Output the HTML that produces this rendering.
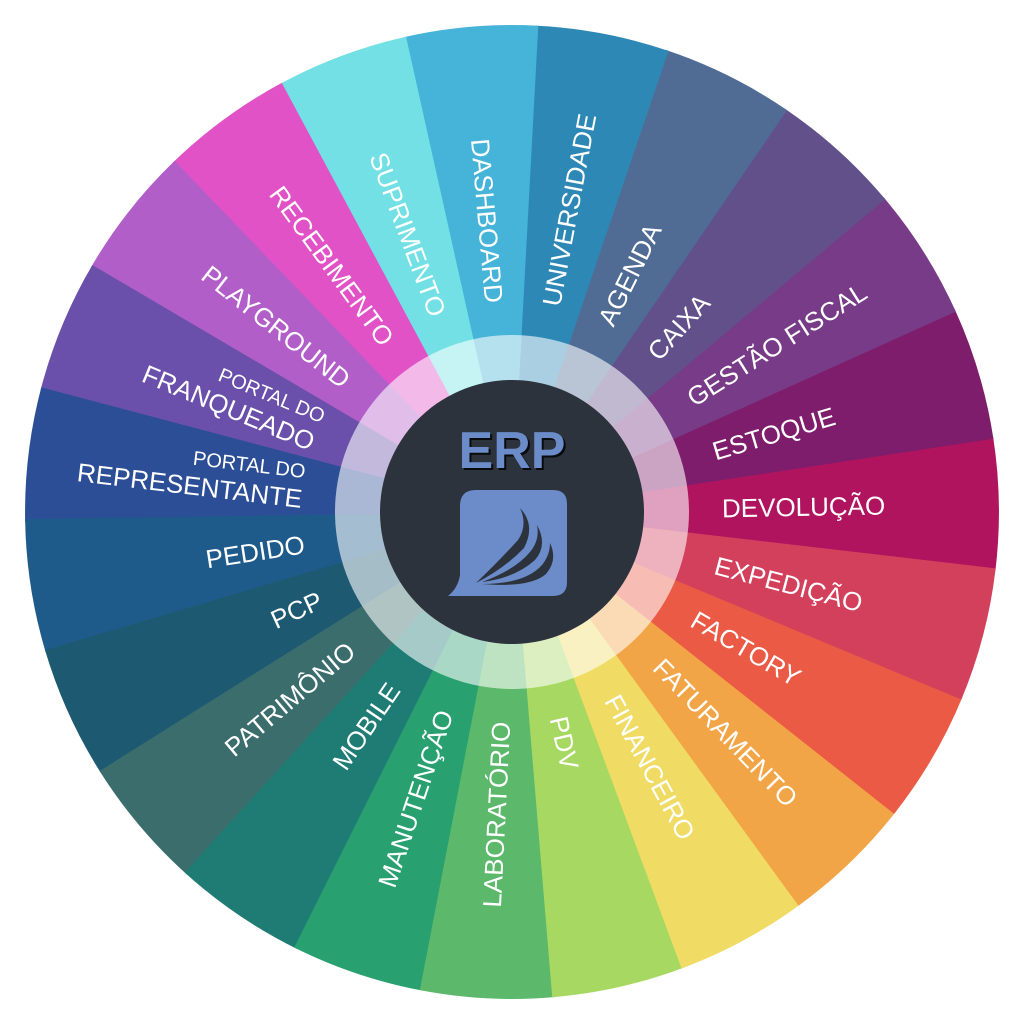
<!DOCTYPE html>
<html><head><meta charset="utf-8"><style>
html,body{margin:0;padding:0;background:#fff;width:1024px;height:1024px;overflow:hidden}
svg{display:block}
text{font-family:"Liberation Sans",sans-serif;fill:#fff}
</style></head><body>
<svg width="1024" height="1024" viewBox="0 0 1024 1024">
<g transform="translate(512,512) rotate(-1)">
<g>
<path d="M0 0 L482.2 -67.8 A487 487 0 0 1 482.2 67.8Z" fill="#b0145f" transform="rotate(0)"/>
<path d="M0 0 L482.2 -67.8 A487 487 0 0 1 482.2 67.8Z" fill="#7e1d6b" transform="rotate(-15.65)"/>
<path d="M0 0 L482.2 -67.8 A487 487 0 0 1 482.2 67.8Z" fill="#783b87" transform="rotate(-31.30)"/>
<path d="M0 0 L482.2 -67.8 A487 487 0 0 1 482.2 67.8Z" fill="#61508a" transform="rotate(-46.96)"/>
<path d="M0 0 L482.2 -67.8 A487 487 0 0 1 482.2 67.8Z" fill="#506c95" transform="rotate(-62.61)"/>
<path d="M0 0 L482.2 -67.8 A487 487 0 0 1 482.2 67.8Z" fill="#2e88b6" transform="rotate(-78.26)"/>
<path d="M0 0 L482.2 -67.8 A487 487 0 0 1 482.2 67.8Z" fill="#46b4d8" transform="rotate(-93.91)"/>
<path d="M0 0 L482.2 -67.8 A487 487 0 0 1 482.2 67.8Z" fill="#72e0e4" transform="rotate(-109.57)"/>
<path d="M0 0 L482.2 -67.8 A487 487 0 0 1 482.2 67.8Z" fill="#e052c6" transform="rotate(-125.22)"/>
<path d="M0 0 L482.2 -67.8 A487 487 0 0 1 482.2 67.8Z" fill="#b25ec8" transform="rotate(-140.87)"/>
<path d="M0 0 L482.2 -67.8 A487 487 0 0 1 482.2 67.8Z" fill="#6a50aa" transform="rotate(-156.52)"/>
<path d="M0 0 L482.2 -67.8 A487 487 0 0 1 482.2 67.8Z" fill="#2b4e96" transform="rotate(-172.17)"/>
<path d="M0 0 L482.2 -67.8 A487 487 0 0 1 482.2 67.8Z" fill="#1f5b8a" transform="rotate(-187.83)"/>
<path d="M0 0 L482.2 -67.8 A487 487 0 0 1 482.2 67.8Z" fill="#1d5a72" transform="rotate(-203.48)"/>
<path d="M0 0 L482.2 -67.8 A487 487 0 0 1 482.2 67.8Z" fill="#3b6d6d" transform="rotate(-219.13)"/>
<path d="M0 0 L482.2 -67.8 A487 487 0 0 1 482.2 67.8Z" fill="#1f7c74" transform="rotate(-234.78)"/>
<path d="M0 0 L482.2 -67.8 A487 487 0 0 1 482.2 67.8Z" fill="#28a070" transform="rotate(-250.43)"/>
<path d="M0 0 L482.2 -67.8 A487 487 0 0 1 482.2 67.8Z" fill="#5cb86a" transform="rotate(-266.09)"/>
<path d="M0 0 L482.2 -67.8 A487 487 0 0 1 482.2 67.8Z" fill="#a7d862" transform="rotate(-281.74)"/>
<path d="M0 0 L482.2 -67.8 A487 487 0 0 1 482.2 67.8Z" fill="#f0dc64" transform="rotate(-297.39)"/>
<path d="M0 0 L482.2 -67.8 A487 487 0 0 1 482.2 67.8Z" fill="#f2a546" transform="rotate(-313.04)"/>
<path d="M0 0 L482.2 -67.8 A487 487 0 0 1 482.2 67.8Z" fill="#eb5a44" transform="rotate(-328.70)"/>
<path d="M0 0 L482.2 -67.8 A487 487 0 0 1 482.2 67.8Z" fill="#d3405c" transform="rotate(-344.35)"/>
</g>
<circle r="177" fill="#fff" opacity="0.6"/>
<circle r="132" fill="#2c333d"/>
<g font-size="26" dominant-baseline="central">
<text transform="rotate(0)" x="210" y="0">DEVOLUÇÃO</text>
<text transform="rotate(-15.65)" x="210" y="0">ESTOQUE</text>
<text transform="rotate(-31.30)" x="210" y="0">GESTÃO FISCAL</text>
<text transform="rotate(-46.96)" x="210" y="0">CAIXA</text>
<text transform="rotate(-62.61)" x="210" y="0">AGENDA</text>
<text transform="rotate(-78.26)" x="210" y="0">UNIVERSIDADE</text>
<text transform="rotate(86.09)" x="-210" y="0" text-anchor="end">DASHBOARD</text>
<text transform="rotate(70.43)" x="-210" y="0" text-anchor="end">SUPRIMENTO</text>
<text transform="rotate(54.78)" x="-210" y="0" text-anchor="end">RECEBIMENTO</text>
<text transform="rotate(39.13)" x="-210" y="0" text-anchor="end">PLAYGROUND</text>
<text transform="rotate(23.48)" x="-210" y="-15" text-anchor="end" font-size="20">PORTAL DO</text>
<text transform="rotate(23.48)" x="-210" y="12" text-anchor="end">FRANQUEADO</text>
<text transform="rotate(7.83)" x="-210" y="-15" text-anchor="end" font-size="20">PORTAL DO</text>
<text transform="rotate(7.83)" x="-210" y="12" text-anchor="end">REPRESENTANTE</text>
<text transform="rotate(-7.83)" x="-210" y="0" text-anchor="end">PEDIDO</text>
<text transform="rotate(-23.48)" x="-210" y="0" text-anchor="end">PCP</text>
<text transform="rotate(-39.13)" x="-210" y="0" text-anchor="end">PATRIMÔNIO</text>
<text transform="rotate(-54.78)" x="-210" y="0" text-anchor="end">MOBILE</text>
<text transform="rotate(-70.43)" x="-210" y="0" text-anchor="end">MANUTENÇÃO</text>
<text transform="rotate(-86.09)" x="-210" y="0" text-anchor="end">LABORATÓRIO</text>
<text transform="rotate(78.26)" x="210" y="0">PDV</text>
<text transform="rotate(62.61)" x="210" y="0">FINANCEIRO</text>
<text transform="rotate(46.96)" x="210" y="0">FATURAMENTO</text>
<text transform="rotate(31.30)" x="210" y="0">FACTORY</text>
<text transform="rotate(15.65)" x="210" y="0">EXPEDIÇÃO</text>
</g>
</g>
<text x="514" y="470" font-size="52" font-weight="bold" text-anchor="middle" style="fill:#000" opacity="0.8">ERP</text>
<text x="512" y="468" font-size="52" font-weight="bold" text-anchor="middle" style="fill:#6b8bc9">ERP</text>
<path d="M476 490 H553 Q567 490 567 504 V582 Q567 596 553 596 H448 Q458 588 460 575 V506 Q460 490 476 490Z" fill="#6b8bc9"/>
<path d="M476 583 Q500 560 518 540 Q528 525 520 508 Q536 525 524 548 Q505 568 476 583Z" fill="#2c333d"/>
<path d="M482 582 Q515 570 530 552 Q540 540 537 525 Q548 545 535 560 Q515 578 482 582Z" fill="#2c333d"/>
<path d="M482 584 Q525 584 542 565 Q550 555 550 543 Q558 560 546 574 Q530 588 482 584Z" fill="#2c333d"/>
</svg>
</body></html>
